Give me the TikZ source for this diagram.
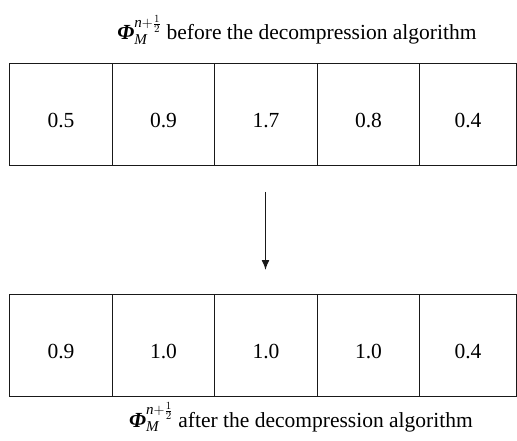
\documentclass[tikz,border=0pt]{standalone}
\usepackage{fontspec}
\setmainfont{Liberation Serif}
\usetikzlibrary{arrows.meta,calc,fit}

\newcommand{\phiM}{$\mbox{\bfseries\itshape Φ}_{\mathit{M}}^{\mathit{n}+\frac{1}{2}}$}

\begin{document}
\begin{tikzpicture}[x=1pt,y=-1pt,
  cell/.style={draw=black!90,line width=1.5pt,rectangle,inner sep=0pt,outer sep=0pt},
  num/.style={font=\fontsize{21.5}{25}\selectfont,anchor=base,inner sep=0pt},
  caption/.style={font=\fontsize{21.5}{25}\selectfont,anchor=base,inner sep=0pt},
  arr/.style={draw=black!90,line width=1.4pt,-{Latex[length=10pt,width=8pt]}}]
  \useasboundingbox (0,0) rectangle (517,441);

  % two rows of five cells; each cell is fitted to its corners
  \foreach \i/\xa/\xb in {1/9.5/112.5,2/112.5/214.5,3/214.5/317.5,4/317.5/419.5,5/419.5/516.5}{
    \node[cell,fit={(\xa,63.5) (\xb,165.5)}] (t\i) {};
    \node[cell,fit={(\xa,294.5) (\xb,396.5)}] (b\i) {};
  }

  % cell values
  \foreach \c/\v in {t1/0.5,t2/0.9,t3/1.7,t4/0.8,t5/0.4,
                     b1/0.9,b2/1.0,b3/1.0,b4/1.0,b5/0.4}
    \node[num] at ([yshift=-13pt]\c.center) {\v};

  % captions
  \node[caption] (capT) at (297,40) {\phiM{} before the decompression algorithm};
  \node[caption] (capB) at (301,427) {\phiM{} after the decompression algorithm};

  % arrow between the rows
  \coordinate (a1) at (265.5,192);
  \coordinate (a2) at (265.5,270);
  \draw[arr] (a1) -- (a2);
\end{tikzpicture}
\end{document}
